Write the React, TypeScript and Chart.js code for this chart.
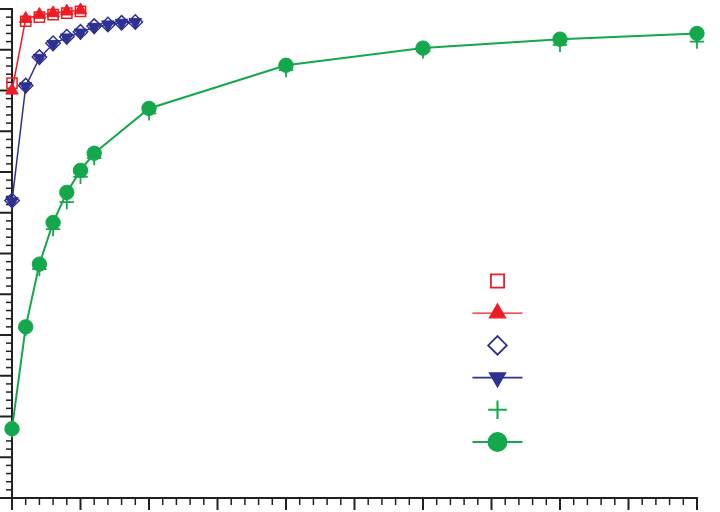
import { useEffect, useRef } from 'react';
import { Chart, registerables } from 'chart.js';
import { drawPoint } from 'chart.js/helpers';

Chart.register(...registerables);

// ---- data ----
const xRed = [0, 1, 2, 3, 4, 5];
const redSquares = [50.9, 58.5, 59.0, 59.3, 59.5, 59.7];
const redTriangles = [50.0, 58.8, 59.3, 59.5, 59.7, 59.85];

const xBlue = [0, 1, 2, 3, 4, 5, 6, 7, 8, 9];
const blueDiamonds = [36.5, 50.6, 54.1, 55.8, 56.6, 57.2, 57.9, 58.1, 58.3, 58.4];
const blueTriangles = [36.4, 50.5, 54.0, 55.7, 56.5, 57.1, 57.8, 58.1, 58.3, 58.4];

const xGreen = [0, 1, 2, 3, 4, 5, 6, 10, 20, 30, 40, 50];
const greenCrosses = [8.3, 20.8, 28.1, 33.0, 36.3, 39.4, 41.7, 47.2, 52.5, 54.8, 55.6, 56.0];
const greenCircles = [8.5, 21.0, 28.7, 33.8, 37.5, 40.2, 42.3, 47.8, 53.1, 55.2, 56.3, 57.0];

const X_MIN = 0;
const X_MAX = 50;
const Y_MIN = 0;
const Y_MAX = 60;
const MINOR_STEP = 1;
const MAJOR_EVERY = 5;

// ---- styles ----
const RED = '#ED1C24';
const BLUE = '#2E3192';
const GREEN = '#12A84B';
const AXIS = '#231F20';

const toPts = (xs: number[], ys: number[]) => xs.map((x, i) => ({ x, y: ys[i] }));

type Series = {
  xs: number[];
  ys: number[];
  color: string;
  style: string;
  rotation: number;
  filled: boolean;
  line: boolean;
  lineWidth: number;
  legendLineWidth: number;
  pointBorder: number;
  order: number;
};

const series: Series[] = [
  { xs: xRed, ys: redSquares, color: RED, style: 'rect', rotation: 0, filled: false, line: false, lineWidth: 0, legendLineWidth: 0, pointBorder: 1.5, order: 1 },
  { xs: xRed, ys: redTriangles, color: RED, style: 'triangle', rotation: 0, filled: true, line: true, lineWidth: 1.5, legendLineWidth: 1.2, pointBorder: 1, order: 0 },
  { xs: xBlue, ys: blueDiamonds, color: BLUE, style: 'rectRot', rotation: 0, filled: false, line: false, lineWidth: 0, legendLineWidth: 0, pointBorder: 1.5, order: 3 },
  { xs: xBlue, ys: blueTriangles, color: BLUE, style: 'triangle', rotation: 180, filled: true, line: true, lineWidth: 1.5, legendLineWidth: 1.8, pointBorder: 1, order: 2 },
  { xs: xGreen, ys: greenCrosses, color: GREEN, style: 'cross', rotation: 0, filled: false, line: false, lineWidth: 0, legendLineWidth: 0, pointBorder: 1.8, order: 5 },
  { xs: xGreen, ys: greenCircles, color: GREEN, style: 'circle', rotation: 0, filled: true, line: true, lineWidth: 2, legendLineWidth: 2.2, pointBorder: 1, order: 4 },
];

const POINT_R = 7.2;
const LEGEND_R = 9.3;
const LEGEND_X = 497.5;
const LEGEND_TOP = 281;
const LEGEND_GAP = 32.2;
const LEGEND_HALF_LINE = 25;

const axesPlugin = {
  id: 'customAxes',
  beforeDatasetsDraw(chart: any) {
    const { ctx } = chart;
    const xs = chart.scales.x;
    const ys = chart.scales.y;
    const x0 = xs.getPixelForValue(X_MIN);
    const x1 = xs.getPixelForValue(X_MAX);
    const y0 = ys.getPixelForValue(Y_MIN);
    const y1 = ys.getPixelForValue(Y_MAX);
    ctx.save();
    ctx.strokeStyle = AXIS;
    ctx.lineCap = 'butt';
    for (let v = X_MIN; v <= X_MAX + 1e-9; v += MINOR_STEP) {
      const major = Math.round(v) % MAJOR_EVERY === 0;
      const px = xs.getPixelForValue(v);
      ctx.lineWidth = major ? 2 : 1.5;
      ctx.beginPath();
      ctx.moveTo(px, y0);
      ctx.lineTo(px, y0 + (major ? 12 : 7));
      ctx.stroke();
    }
    for (let v = Y_MIN; v <= Y_MAX + 1e-9; v += MINOR_STEP) {
      const major = Math.round(v) % MAJOR_EVERY === 0;
      const py = ys.getPixelForValue(v);
      ctx.lineWidth = major ? 2 : 1.5;
      ctx.beginPath();
      ctx.moveTo(x0, py);
      ctx.lineTo(x0 - (major ? 12 : 6), py);
      ctx.stroke();
    }
    ctx.lineWidth = 2;
    ctx.beginPath();
    ctx.moveTo(x0, y1 - 1);
    ctx.lineTo(x0, y0);
    ctx.lineTo(x1 + 1, y0);
    ctx.stroke();
    ctx.restore();
  },
};

const legendPlugin = {
  id: 'markerLegend',
  afterDatasetsDraw(chart: any) {
    const { ctx } = chart;
    ctx.save();
    series.forEach((s, i) => {
      const cy = LEGEND_TOP + i * LEGEND_GAP;
      if (s.line) {
        ctx.strokeStyle = s.color;
        ctx.lineWidth = s.legendLineWidth;
        ctx.beginPath();
        ctx.moveTo(LEGEND_X - LEGEND_HALF_LINE, cy);
        ctx.lineTo(LEGEND_X + LEGEND_HALF_LINE, cy);
        ctx.stroke();
      }
      ctx.strokeStyle = s.color;
      ctx.fillStyle = s.filled ? s.color : 'rgba(0,0,0,0)';
      ctx.lineWidth = s.pointBorder + 0.3;
      drawPoint(ctx, { pointStyle: s.style, rotation: s.rotation, radius: LEGEND_R, borderWidth: s.pointBorder + 0.3 } as any, LEGEND_X, cy);
    });
    ctx.restore();
  },
};

export default function App() {
  const ref = useRef<HTMLCanvasElement | null>(null);
  useEffect(() => {
    if (!ref.current) return;
    const chart = new Chart(ref.current, {
      type: 'scatter',
      data: {
        datasets: series.map((s) => ({
          data: toPts(s.xs, s.ys),
          showLine: s.line,
          borderColor: s.color,
          borderWidth: s.lineWidth,
          backgroundColor: s.filled ? s.color : 'rgba(0,0,0,0)',
          pointStyle: s.style as any,
          pointRotation: s.rotation,
          pointRadius: POINT_R,
          pointBorderWidth: s.pointBorder,
          pointBorderColor: s.color,
          pointBackgroundColor: s.filled ? s.color : 'rgba(0,0,0,0)',
          tension: 0,
          clip: false as any,
          order: s.order,
        })),
      },
      options: {
        animation: false,
        responsive: false,
        events: [],
        layout: { padding: { left: 12, right: 23, top: 4.8, bottom: 14 } },
        plugins: { legend: { display: false }, tooltip: { enabled: false } },
        scales: {
          x: { type: 'linear', min: X_MIN, max: X_MAX, display: false },
          y: { type: 'linear', min: Y_MIN, max: Y_MAX, display: false },
        },
      },
      plugins: [axesPlugin, legendPlugin],
    });
    return () => chart.destroy();
  }, []);
  return (
    <div style={{ position: 'fixed', left: 0, top: 0, width: 720, height: 512, background: '#fff' }}>
      <canvas ref={ref} width={720} height={512} style={{ display: 'block' }} />
    </div>
  );
}
